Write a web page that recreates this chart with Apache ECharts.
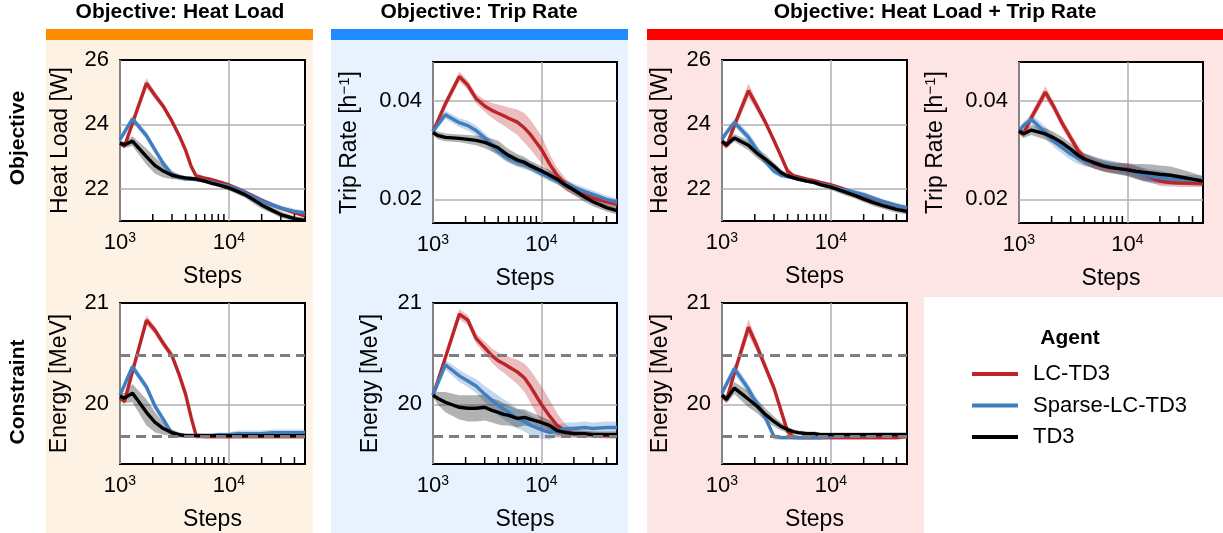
<!DOCTYPE html>
<html><head><meta charset="utf-8">
<script src="https://cdn.jsdelivr.net/npm/echarts@6/dist/echarts.min.js"></script>
<style>html,body{margin:0;padding:0;background:#fff}#c{width:1223px;height:533px}</style>
</head><body><div id="c"></div><script>
// ---------- data ----------
const steps = [1000,1100,1300,1750,2100,2500,3000,3500,4000,4500,5000,6000,7000,8000,10000,12000,14000,17000,20000,25000,30000,40000,50000];
const stepMinorTicks = [2000,3000,4000,5000,6000,7000,8000,9000,20000,30000,40000];
const heatLabels = [22, 24, 26];
const heatGrid = [22, 24];
const tripLabels = [0.02, 0.04];
const tripGrid = [0.02, 0.04];
const energyLabels = [20, 21];
const energyGrid = [20];
const energyLimits = [19.68, 20.48];
const agents = ['LC-TD3', 'Sparse-LC-TD3', 'TD3'];

// Objective: Heat Load -> heat load
const hl_heat_lc     = [23.42,23.32,24.03,25.28,24.90,24.56,24.10,23.65,23.20,22.70,22.40,22.33,22.28,22.22,22.12,22.00,21.90,21.76,21.64,21.50,21.40,21.26,21.16];
const hl_heat_lc_sd  = [0.08,0.08,0.12,0.15,0.12,0.10,0.10,0.10,0.10,0.10,0.08,0.06,0.06,0.06,0.06,0.06,0.06,0.06,0.06,0.06,0.06,0.06,0.06];
const hl_heat_sp     = [23.53,23.76,24.17,23.65,23.20,22.78,22.45,22.35,22.30,22.30,22.29,22.25,22.20,22.15,22.08,21.98,21.88,21.74,21.62,21.50,21.40,21.30,21.25];
const hl_heat_sp_sd  = [0.08,0.10,0.10,0.12,0.12,0.12,0.10,0.08,0.06,0.06,0.06,0.06,0.06,0.06,0.08,0.10,0.10,0.10,0.10,0.08,0.08,0.08,0.08];
const hl_heat_td3    = [23.42,23.37,23.48,23.00,22.72,22.55,22.42,22.37,22.34,22.32,22.30,22.24,22.17,22.12,22.03,21.92,21.82,21.65,21.50,21.33,21.20,21.07,21.02];
const hl_heat_td3_sd = [0.06,0.10,0.15,0.25,0.25,0.20,0.12,0.08,0.06,0.06,0.06,0.06,0.06,0.06,0.08,0.10,0.10,0.12,0.12,0.10,0.10,0.08,0.08];

// Objective: Heat Load -> energy
const hl_en_lc     = [20.06,20.03,20.32,20.83,20.73,20.60,20.48,20.29,20.10,19.87,19.69,19.68,19.68,19.68,19.68,19.68,19.68,19.68,19.68,19.68,19.68,19.68,19.68];
const hl_en_lc_sd  = [0.03,0.03,0.04,0.05,0.04,0.04,0.04,0.04,0.04,0.04,0.03,0.02,0.02,0.02,0.02,0.02,0.02,0.02,0.02,0.02,0.02,0.02,0.02];
const hl_en_sp     = [20.09,20.19,20.37,20.17,19.98,19.85,19.71,19.69,19.69,19.69,19.69,19.69,19.69,19.70,19.70,19.71,19.71,19.71,19.71,19.72,19.72,19.72,19.72];
const hl_en_sp_sd  = [0.03,0.04,0.04,0.04,0.04,0.04,0.03,0.02,0.02,0.02,0.02,0.02,0.02,0.02,0.02,0.03,0.03,0.03,0.03,0.03,0.03,0.03,0.03];
const hl_en_td3    = [20.08,20.06,20.11,19.92,19.82,19.76,19.72,19.70,19.69,19.69,19.69,19.69,19.69,19.69,19.69,19.69,19.69,19.69,19.69,19.69,19.69,19.69,19.69];
const hl_en_td3_sd = [0.03,0.05,0.09,0.13,0.10,0.06,0.03,0.02,0.02,0.02,0.02,0.02,0.02,0.02,0.02,0.02,0.02,0.02,0.02,0.02,0.02,0.02,0.02];

// Objective: Trip Rate -> trip rate
const tr_trip_lc     = [0.0338,0.0358,0.0394,0.0450,0.0432,0.0405,0.0390,0.0381,0.0375,0.0370,0.0365,0.0357,0.0345,0.0331,0.0302,0.0271,0.0249,0.0229,0.0219,0.0210,0.0203,0.0195,0.0190];
const tr_trip_lc_sd  = [0.0006,0.0008,0.0009,0.0010,0.0010,0.0010,0.0012,0.0015,0.0018,0.0020,0.0022,0.0026,0.0030,0.0030,0.0028,0.0020,0.0015,0.0012,0.0010,0.0010,0.0008,0.0008,0.0008];
const tr_trip_sp     = [0.0338,0.0351,0.0372,0.0356,0.0350,0.0340,0.0325,0.0310,0.0298,0.0290,0.0284,0.0277,0.0271,0.0266,0.0253,0.0245,0.0238,0.0230,0.0224,0.0216,0.0210,0.0200,0.0194];
const tr_trip_sp_sd  = [0.0006,0.0007,0.0008,0.0009,0.0010,0.0010,0.0010,0.0010,0.0010,0.0010,0.0010,0.0010,0.0010,0.0009,0.0008,0.0008,0.0008,0.0008,0.0008,0.0008,0.0008,0.0008,0.0008];
const tr_trip_td3    = [0.0336,0.0330,0.0326,0.0324,0.0322,0.0320,0.0316,0.0310,0.0305,0.0296,0.0289,0.0280,0.0275,0.0268,0.0258,0.0249,0.0241,0.0228,0.0219,0.0205,0.0195,0.0183,0.0177];
const tr_trip_td3_sd = [0.0005,0.0008,0.0008,0.0008,0.0009,0.0010,0.0012,0.0013,0.0014,0.0014,0.0013,0.0012,0.0011,0.0010,0.0010,0.0010,0.0010,0.0010,0.0010,0.0010,0.0009,0.0008,0.0008];

// Objective: Trip Rate -> energy
const tr_en_lc     = [20.09,20.22,20.46,20.89,20.83,20.65,20.56,20.48,20.43,20.40,20.37,20.32,20.26,20.17,20.00,19.88,19.79,19.73,19.71,19.70,19.70,19.69,19.69];
const tr_en_lc_sd  = [0.03,0.04,0.04,0.05,0.05,0.05,0.06,0.07,0.08,0.09,0.10,0.12,0.14,0.16,0.18,0.16,0.12,0.06,0.04,0.03,0.03,0.03,0.03];
const tr_en_sp     = [20.09,20.20,20.39,20.28,20.23,20.18,20.10,20.04,19.99,19.95,19.92,19.86,19.83,19.79,19.75,19.72,19.74,19.76,19.76,19.77,19.76,19.77,19.77];
const tr_en_sp_sd  = [0.03,0.04,0.05,0.06,0.06,0.07,0.08,0.09,0.10,0.10,0.10,0.10,0.10,0.10,0.09,0.07,0.06,0.06,0.06,0.06,0.06,0.06,0.06];
const tr_en_td3    = [20.09,20.06,20.02,19.97,19.96,19.96,19.97,19.94,19.92,19.90,19.89,19.86,19.87,19.85,19.82,19.79,19.74,19.72,19.71,19.71,19.70,19.70,19.70];
const tr_en_td3_sd = [0.02,0.06,0.10,0.12,0.13,0.13,0.13,0.12,0.12,0.11,0.10,0.09,0.08,0.07,0.06,0.05,0.04,0.03,0.03,0.03,0.03,0.03,0.03];

// Objective: Heat Load + Trip Rate -> heat load
const hb_heat_lc     = [23.47,23.32,23.97,25.05,24.56,24.07,23.50,23.00,22.55,22.41,22.37,22.30,22.25,22.20,22.12,22.04,21.96,21.86,21.78,21.68,21.60,21.48,21.40];
const hb_heat_lc_sd  = [0.10,0.10,0.15,0.22,0.15,0.12,0.10,0.10,0.10,0.08,0.06,0.06,0.06,0.06,0.06,0.06,0.06,0.06,0.06,0.06,0.06,0.06,0.06];
const hb_heat_sp     = [23.53,23.75,24.06,23.60,23.20,22.85,22.55,22.42,22.38,22.34,22.30,22.25,22.20,22.15,22.08,22.00,21.94,21.88,21.82,21.70,21.60,21.48,21.41];
const hb_heat_sp_sd  = [0.08,0.10,0.12,0.15,0.15,0.12,0.10,0.08,0.06,0.06,0.06,0.06,0.06,0.06,0.06,0.08,0.08,0.08,0.08,0.08,0.08,0.08,0.08];
const hb_heat_td3    = [23.47,23.37,23.58,23.35,23.10,22.92,22.70,22.50,22.40,22.35,22.30,22.24,22.20,22.13,22.05,21.96,21.88,21.78,21.68,21.56,21.48,21.36,21.30];
const hb_heat_td3_sd = [0.08,0.10,0.12,0.15,0.15,0.15,0.12,0.10,0.08,0.06,0.06,0.06,0.06,0.06,0.08,0.10,0.10,0.10,0.10,0.10,0.10,0.10,0.10];

// Objective: Heat Load + Trip Rate -> trip rate
const hb_trip_lc     = [0.0339,0.0334,0.0366,0.0418,0.0388,0.0355,0.0325,0.0300,0.0283,0.0277,0.0272,0.0267,0.0264,0.0263,0.0262,0.0256,0.0250,0.0243,0.0237,0.0234,0.0233,0.0233,0.0233];
const hb_trip_lc_sd  = [0.0006,0.0008,0.0010,0.0012,0.0010,0.0010,0.0010,0.0010,0.0010,0.0010,0.0010,0.0010,0.0010,0.0010,0.0012,0.0012,0.0012,0.0010,0.0010,0.0008,0.0008,0.0008,0.0008];
const hb_trip_sp     = [0.0339,0.0350,0.0363,0.0336,0.0318,0.0305,0.0292,0.0284,0.0280,0.0277,0.0274,0.0270,0.0267,0.0264,0.0260,0.0255,0.0250,0.0246,0.0244,0.0241,0.0240,0.0239,0.0239];
const hb_trip_sp_sd  = [0.0006,0.0008,0.0010,0.0012,0.0012,0.0012,0.0012,0.0012,0.0012,0.0012,0.0012,0.0012,0.0012,0.0012,0.0012,0.0014,0.0014,0.0014,0.0014,0.0012,0.0010,0.0010,0.0010];
const hb_trip_td3    = [0.0339,0.0333,0.0341,0.0333,0.0325,0.0315,0.0302,0.0290,0.0282,0.0278,0.0274,0.0268,0.0265,0.0263,0.0260,0.0257,0.0255,0.0253,0.0251,0.0249,0.0246,0.0241,0.0237];
const hb_trip_td3_sd = [0.0006,0.0008,0.0010,0.0012,0.0012,0.0012,0.0012,0.0012,0.0012,0.0012,0.0012,0.0012,0.0012,0.0012,0.0013,0.0015,0.0017,0.0018,0.0018,0.0018,0.0016,0.0013,0.0010];

// Objective: Heat Load + Trip Rate -> energy
const hb_en_lc     = [20.09,20.04,20.31,20.76,20.57,20.37,20.16,19.93,19.73,19.68,19.67,19.67,19.67,19.67,19.67,19.67,19.67,19.67,19.67,19.67,19.67,19.67,19.68];
const hb_en_lc_sd  = [0.03,0.03,0.05,0.08,0.06,0.05,0.05,0.05,0.04,0.03,0.02,0.02,0.02,0.02,0.02,0.02,0.02,0.02,0.02,0.02,0.02,0.02,0.02];
const hb_en_sp     = [20.11,20.20,20.35,20.15,20.00,19.87,19.68,19.67,19.67,19.67,19.67,19.67,19.67,19.67,19.68,19.68,19.69,19.69,19.69,19.70,19.70,19.70,19.70];
const hb_en_sp_sd  = [0.03,0.04,0.05,0.05,0.05,0.05,0.03,0.02,0.02,0.02,0.02,0.02,0.02,0.02,0.02,0.02,0.02,0.02,0.02,0.02,0.02,0.02,0.02];
const hb_en_td3    = [20.09,20.05,20.16,20.05,19.98,19.90,19.83,19.78,19.75,19.73,19.72,19.71,19.71,19.70,19.70,19.70,19.70,19.70,19.70,19.70,19.70,19.70,19.70];
const hb_en_td3_sd = [0.03,0.04,0.06,0.08,0.07,0.06,0.05,0.04,0.03,0.02,0.02,0.02,0.02,0.02,0.02,0.02,0.02,0.02,0.02,0.02,0.02,0.02,0.02];

// ---------- styling / layout ----------
const FONT = "'Liberation Sans', Arial, Helvetica, sans-serif";
const lineColors = ['#bd2428', '#3f7fbf', '#000000'];
const GRID_C = '#b0b0b0';
const TICK_LEN = 6; // px

const metrics = {
  heat:   {min: 21, max: 26, labels: heatLabels, grid: heatGrid, name: 'Heat Load [W]', fmt: v => String(v)},
  trip:   {min: 0.01518, max: 0.04794, labels: tripLabels, grid: tripGrid, name: 'Trip Rate [h{s|−1}]', fmt: v => v.toFixed(2)},
  energy: {min: 19.41, max: 21.0, labels: energyLabels, grid: energyGrid, name: 'Energy [MeV]', fmt: v => String(Math.round(v))}
};

const panels = [
  {metric: 'heat',   box: [120, 60, 185, 161], gap: 46, d: [[hl_heat_lc, hl_heat_lc_sd], [hl_heat_sp, hl_heat_sp_sd], [hl_heat_td3, hl_heat_td3_sd]]},
  {metric: 'energy', box: [120, 303, 185, 161], gap: 47, d: [[hl_en_lc, hl_en_lc_sd], [hl_en_sp, hl_en_sp_sd], [hl_en_td3, hl_en_td3_sd]], limits: true},
  {metric: 'trip',   box: [433, 62, 184, 161], gap: 70, d: [[tr_trip_lc, tr_trip_lc_sd], [tr_trip_sp, tr_trip_sp_sd], [tr_trip_td3, tr_trip_td3_sd]]},
  {metric: 'energy', box: [433, 303, 184, 161], gap: 49, d: [[tr_en_lc, tr_en_lc_sd], [tr_en_sp, tr_en_sp_sd], [tr_en_td3, tr_en_td3_sd]], limits: true},
  {metric: 'heat',   box: [722, 60, 185, 161], gap: 48, d: [[hb_heat_lc, hb_heat_lc_sd], [hb_heat_sp, hb_heat_sp_sd], [hb_heat_td3, hb_heat_td3_sd]]},
  {metric: 'trip',   box: [1019, 62, 184, 161], gap: 70, d: [[hb_trip_lc, hb_trip_lc_sd], [hb_trip_sp, hb_trip_sp_sd], [hb_trip_td3, hb_trip_td3_sd]]},
  {metric: 'energy', box: [722, 303, 185, 161], gap: 48, d: [[hb_en_lc, hb_en_lc_sd], [hb_en_sp, hb_en_sp_sd], [hb_en_td3, hb_en_td3_sd]], limits: true}
];

function hexA(hex, a) {
  const n = parseInt(hex.slice(1), 16);
  return 'rgba(' + (n >> 16 & 255) + ',' + (n >> 8 & 255) + ',' + (n & 255) + ',' + a + ')';
}

const grids = [], xAxes = [], yAxes = [], series = [];
panels.forEach((p, g) => {
  const m = metrics[p.metric];
  grids.push({left: p.box[0], top: p.box[1], width: p.box[2], height: p.box[3],
    show: true, backgroundColor: '#ffffff', borderColor: '#000', borderWidth: 2});
  xAxes.push({type: 'log', logBase: 10, gridIndex: g, min: 1000, max: 50000, position: 'bottom',
    name: 'Steps', nameLocation: 'middle', nameGap: 44,
    nameTextStyle: {fontSize: 23, fontFamily: FONT, color: '#000'},
    axisLine: {show: false},
    axisTick: {show: false},
    splitLine: {show: true, showMinLine: false, showMaxLine: false, lineStyle: {color: GRID_C, width: 1.5}},
    axisLabel: {margin: 10, color: '#000', showMaxLabel: false,
      formatter: v => { const e = Math.log10(v); return Math.abs(e - Math.round(e)) < 1e-6 ? '{n|10}{s|' + Math.round(e) + '}' : ''; },
      rich: {n: {fontSize: 22, fontFamily: FONT, color: '#000', lineHeight: 24},
             s: {fontSize: 14, fontFamily: FONT, color: '#000', lineHeight: 14, verticalAlign: 'top'}}}
  });
  yAxes.push({type: 'value', gridIndex: g, min: m.min, max: m.max,
    name: m.name, nameLocation: 'middle', nameGap: p.gap, nameRotate: 90,
    nameTextStyle: {fontSize: 23, fontFamily: FONT, color: '#000', lineHeight: 26,
      rich: {s: {fontSize: 15, fontFamily: FONT, color: '#000', lineHeight: 15, verticalAlign: 'top'}}},
    axisLine: {show: false},
    axisTick: {show: false, customValues: m.grid},
    splitLine: {show: true, lineStyle: {color: GRID_C, width: 1.5}},
    axisLabel: {customValues: m.labels, formatter: m.fmt, fontSize: 22, fontFamily: FONT, color: '#000', margin: 11}
  });
  p.d.forEach((pair, k) => {
    const mean = pair[0], sd = pair[1];
    const lo = mean.map((v, i) => v - sd[i]);
    const hi = mean.map((v, i) => v + sd[i]);
    const bandCol = k === 2 ? 'rgba(0,0,0,0.3)' : hexA(lineColors[k], 0.3);
    series.push({
      type: 'custom', name: agents[k] + ' band', xAxisIndex: g, yAxisIndex: g,
      silent: true, clip: true,
      data: steps.map((x, i) => [x, lo[i], hi[i]]),
      encode: {x: 0, y: [1, 2]},
      renderItem: (params, api) => {
        if (params.dataIndex !== 0) return null;
        const pts = [];
        for (let i = 0; i < steps.length; i++) pts.push(api.coord([steps[i], hi[i]]));
        for (let i = steps.length - 1; i >= 0; i--) pts.push(api.coord([steps[i], lo[i]]));
        const cs = params.coordSys;
        return {type: 'polygon', shape: {points: pts}, style: {fill: bandCol},
          clipPath: {type: 'rect', shape: {x: cs.x, y: cs.y, width: cs.width, height: cs.height}}};
      }
    });
    const s = {
      type: 'line', name: agents[k], xAxisIndex: g, yAxisIndex: g,
      data: steps.map((x, i) => [x, mean[i]]),
      showSymbol: false, symbol: 'none', silent: true,
      color: lineColors[k],
      lineStyle: {color: lineColors[k], width: 3.4},
      itemStyle: {color: lineColors[k]}
    };
    if (p.limits && k === 0) {
      s.markLine = {silent: true, symbol: 'none', label: {show: false},
        lineStyle: {color: '#7f7f7f', width: 3, type: [10, 6]},
        data: energyLimits.map(v => ({yAxis: v}))};
    }
    series.push(s);
  });
});

const graphics = [
  {id: 'bg0', type: 'rect', z: -10, shape: {x: 46, y: 40, width: 267, height: 493}, style: {fill: '#fef2e5'}},
  {id: 'bg1', type: 'rect', z: -10, shape: {x: 46, y: 29, width: 267, height: 11}, style: {fill: '#ff8c00'}},
  {id: 'bg2', type: 'rect', z: -10, shape: {x: 331, y: 40, width: 297, height: 493}, style: {fill: '#e7f2fe'}},
  {id: 'bg3', type: 'rect', z: -10, shape: {x: 331, y: 29, width: 297, height: 11}, style: {fill: '#1e8cff'}},
  {id: 'bg4', type: 'rect', z: -10, shape: {x: 647, y: 40, width: 576, height: 257}, style: {fill: '#fee5e5'}},
  {id: 'bg5', type: 'rect', z: -10, shape: {x: 647, y: 297, width: 277, height: 236}, style: {fill: '#fee5e5'}},
  {id: 'bg6', type: 'rect', z: -10, shape: {x: 647, y: 29, width: 576, height: 11}, style: {fill: '#ff0000'}},
  {id: 't0', type: 'text', z: 10, x: 180, y: 12, style: {text: 'Objective: Heat Load', fill: '#000', font: 'bold 21px ' + FONT, textAlign: 'center', textVerticalAlign: 'middle'}},
  {id: 't1', type: 'text', z: 10, x: 479, y: 12, style: {text: 'Objective: Trip Rate', fill: '#000', font: 'bold 21px ' + FONT, textAlign: 'center', textVerticalAlign: 'middle'}},
  {id: 't2', type: 'text', z: 10, x: 935, y: 12, style: {text: 'Objective: Heat Load + Trip Rate', fill: '#000', font: 'bold 21px ' + FONT, textAlign: 'center', textVerticalAlign: 'middle'}},
  {id: 't3', type: 'text', z: 10, x: 18, y: 138, rotation: Math.PI / 2, style: {text: 'Objective', fill: '#000', font: 'bold 21px ' + FONT, textAlign: 'center', textVerticalAlign: 'middle'}},
  {id: 't4', type: 'text', z: 10, x: 18, y: 392, rotation: Math.PI / 2, style: {text: 'Constraint', fill: '#000', font: 'bold 21px ' + FONT, textAlign: 'center', textVerticalAlign: 'middle'}},
  {id: 't5', type: 'text', z: 10, x: 1070, y: 338, style: {text: 'Agent', fill: '#000', font: 'bold 21px ' + FONT, textAlign: 'center', textVerticalAlign: 'middle'}}
];

const chart = echarts.init(document.getElementById('c'), null, {renderer: 'canvas'});
chart.setOption({
  animation: false,
  backgroundColor: '#ffffff',
  grid: grids, xAxis: xAxes, yAxis: yAxes, series: series,
  graphic: {elements: graphics},
  legend: {
    orient: 'vertical', left: 972, top: 363, padding: 0, itemWidth: 46, itemHeight: 4, itemGap: 9.5,
    icon: 'rect', selectedMode: false,
    data: agents,
    textStyle: {fontSize: 22, fontFamily: FONT, color: '#000', lineHeight: 22, padding: [0, 0, 0, 10]}
  }
});

// minor ticks of the log step axis: positions come from the chart's own axis scales
const tickEls = [];
panels.forEach((p, g) => {
  const m = metrics[p.metric];
  stepMinorTicks.forEach((v, j) => {
    const pt = chart.convertToPixel({gridIndex: g}, [v, m.min]);
    if (!pt || !isFinite(pt[0]) || !isFinite(pt[1])) return;
    tickEls.push({id: 'tick_' + g + '_' + j, type: 'rect', z: 50,
      shape: {x: pt[0] - 0.75, y: pt[1] - TICK_LEN - 1, width: 1.5, height: TICK_LEN},
      style: {fill: '#000'}});
  });
});
chart.setOption({graphic: {elements: graphics.concat(tickEls)}});
</script></body></html>
